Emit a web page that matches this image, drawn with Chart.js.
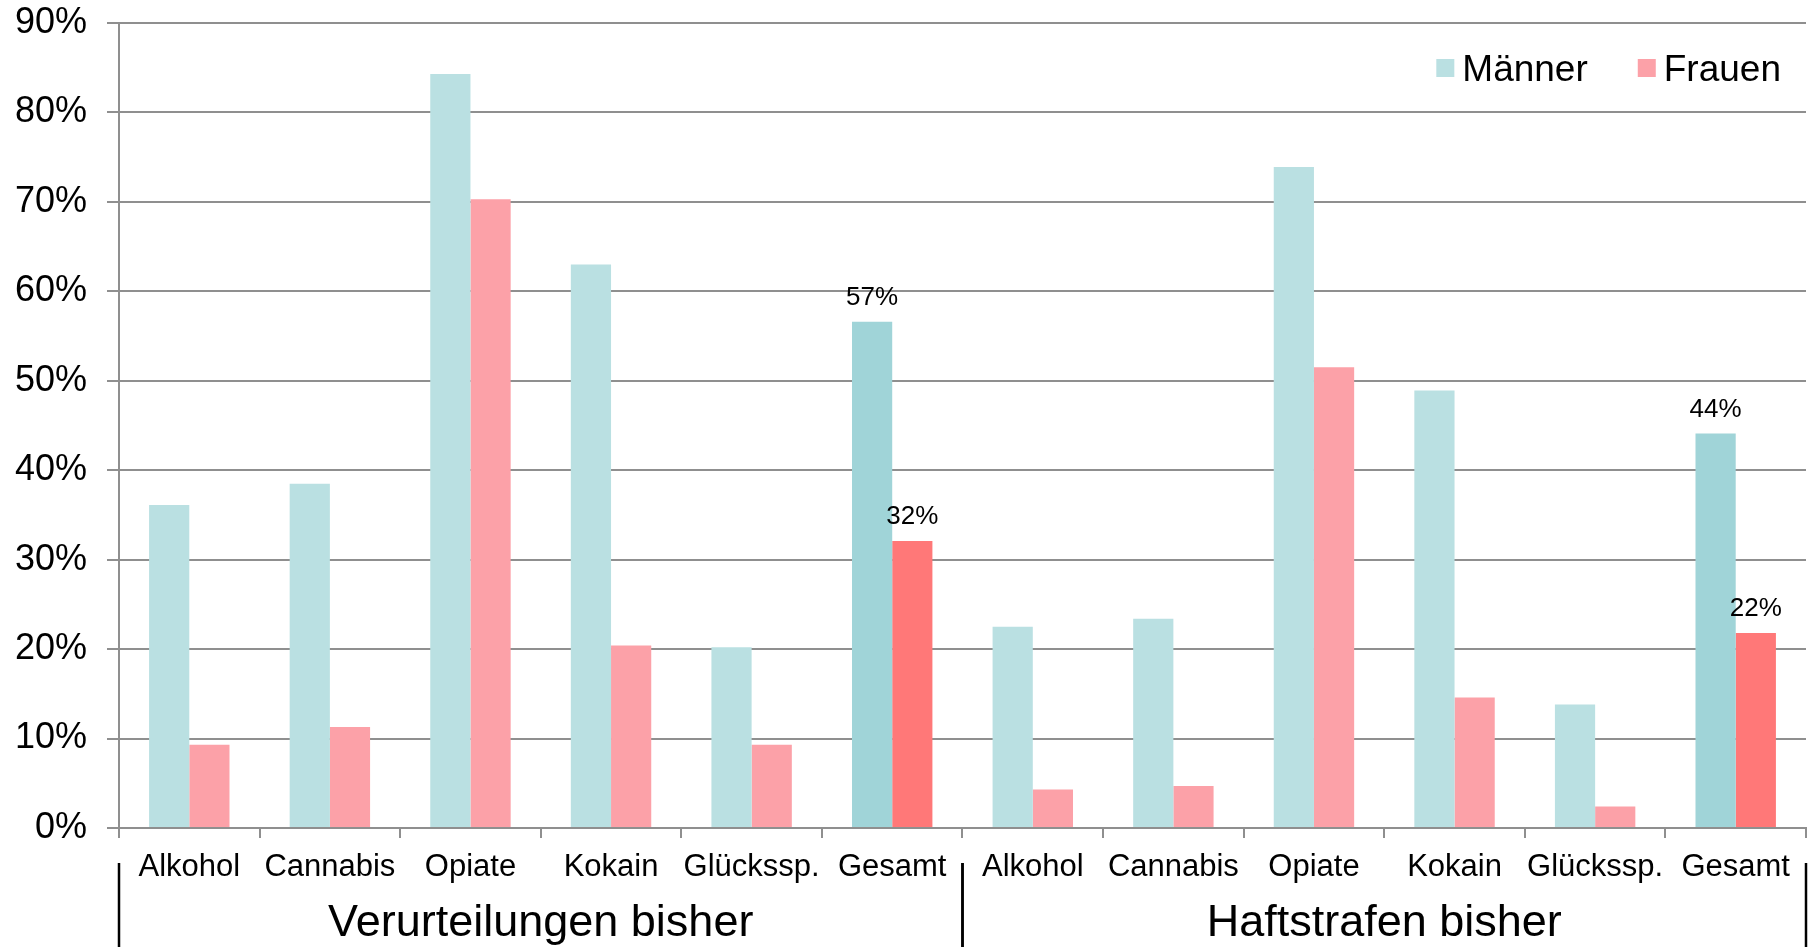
<!DOCTYPE html>
<html>
<head>
<meta charset="utf-8">
<script src="https://cdn.jsdelivr.net/npm/chart.js@4.4.0/dist/chart.umd.min.js"></script>
<style>
html, body { margin: 0; padding: 0; background: #fff; }
</style>
</head>
<body>
<canvas id="chart" width="1814" height="947"></canvas>
<script>
// Data (percent)
const categories = ['Alkohol', 'Cannabis', 'Opiate', 'Kokain', 'Glückssp.', 'Gesamt',
                    'Alkohol', 'Cannabis', 'Opiate', 'Kokain', 'Glückssp.', 'Gesamt'];
const groups = ['Verurteilungen bisher', 'Haftstrafen bisher'];
const groupSize = 6;
const men = [36.1, 38.5, 84.3, 63.0, 20.2, 56.6, 22.5, 23.4, 73.9, 48.9, 13.8, 44.1];
const women = [9.3, 11.3, 70.3, 20.4, 9.3, 32.1, 4.3, 4.7, 51.5, 14.6, 2.4, 21.8];
const labelled = [5, 11];   // bars with a value label (Gesamt)
const yMax = 90;
const yStep = 10;

const FONT = '"Liberation Sans", Arial, sans-serif';
Chart.defaults.font.family = FONT;

const menColor = '#bae0e2', menTotal = '#a0d4d8';
const womenColor = '#fca1a8', womenTotal = '#ff7878';
const gridColor = '#8f8f8f';

function colors(base, total) {
    return categories.map((c, i) => labelled.includes(i) ? total : base);
}

// Value labels above the Gesamt bars
const valueLabels = {
    id: 'valueLabels',
    afterDatasetsDraw(chart) {
        const ctx = chart.ctx;
        ctx.save();
        ctx.font = '26px ' + FONT;
        ctx.fillStyle = '#000';
        ctx.textAlign = 'center';
        ctx.textBaseline = 'alphabetic';
        chart.data.datasets.forEach((ds, di) => {
            const meta = chart.getDatasetMeta(di);
            labelled.forEach(i => {
                const bar = meta.data[i];
                ctx.fillText(Math.round(ds.data[i]) + '%', bar.x, bar.y - 17);
            });
        });
        ctx.restore();
    }
};

// Group labels, separators and legend
const extras = {
    id: 'extras',
    afterDraw(chart) {
        const ctx = chart.ctx;
        const x = chart.scales.x;
        const area = chart.chartArea;
        const half = (x.getPixelForTick(1) - x.getPixelForTick(0)) / 2;
        ctx.save();

        ctx.strokeStyle = '#000';
        ctx.lineWidth = 2.5;
        ctx.fillStyle = '#000';
        ctx.font = '45px ' + FONT;
        ctx.textAlign = 'center';
        ctx.textBaseline = 'alphabetic';
        groups.forEach((g, gi) => {
            const left = x.getPixelForTick(gi * groupSize) - half;
            const right = x.getPixelForTick(gi * groupSize + groupSize - 1) + half;
            ctx.fillText(g, (left + right) / 2, 936);
            [left, right].forEach(px => {
                ctx.beginPath();
                ctx.moveTo(px, 863);
                ctx.lineTo(px, chart.height);
                ctx.stroke();
            });
        });

        // legend
        const items = [['Frauen', womenColor], ['Männer', menColor]];
        ctx.font = '37px ' + FONT;
        ctx.textAlign = 'left';
        let pos = area.right - 25;
        items.forEach(([name, col]) => {
            const w = ctx.measureText(name).width;
            pos -= w;
            ctx.fillStyle = '#000';
            ctx.fillText(name, pos, area.top + 58);
            pos -= 8 + 18;
            ctx.fillStyle = col;
            ctx.fillRect(pos, area.top + 36, 18, 18);
            pos -= 50;
        });
        ctx.restore();
    }
};

const ctx = document.getElementById('chart').getContext('2d');
const chart = new Chart(ctx, {
    type: 'bar',
    data: {
        labels: categories,
        datasets: [{
            label: 'Männer',
            data: men,
            backgroundColor: colors(menColor, menTotal),
            borderWidth: 0
        }, {
            label: 'Frauen',
            data: women,
            backgroundColor: colors(womenColor, womenTotal),
            borderWidth: 0
        }]
    },
    options: {
        responsive: false,
        animation: false,
        categoryPercentage: 0.572,
        barPercentage: 1.0,
        layout: { padding: { top: 23, right: 8, left: 0, bottom: 0 } },
        plugins: {
            legend: { display: false },
            tooltip: { enabled: false }
        },
        scales: {
            x: {
                ticks: {
                    color: '#000',
                    font: { size: 31 },
                    padding: 11,
                    maxRotation: 0,
                    autoSkip: false
                },
                grid: {
                    drawOnChartArea: false,
                    color: gridColor,
                    lineWidth: 2,
                    tickLength: 10
                },
                border: { color: gridColor, width: 2 },
                afterFit(scale) {
                    scale.height = 119;
                    scale.paddingLeft = 0;
                    scale.paddingRight = 0;
                }
            },
            y: {
                min: 0,
                max: yMax,
                ticks: {
                    stepSize: yStep,
                    color: '#000',
                    font: { size: 36 },
                    padding: 20,
                    callback: v => v + '%'
                },
                grid: {
                    color: gridColor,
                    lineWidth: 2,
                    tickLength: 12
                },
                border: { color: gridColor, width: 2 },
                afterFit(scale) {
                    scale.width = 119;
                    scale.paddingTop = 0;
                    scale.paddingBottom = 0;
                }
            }
        }
    },
    plugins: [valueLabels, extras]
});
</script>
</body>
</html>
